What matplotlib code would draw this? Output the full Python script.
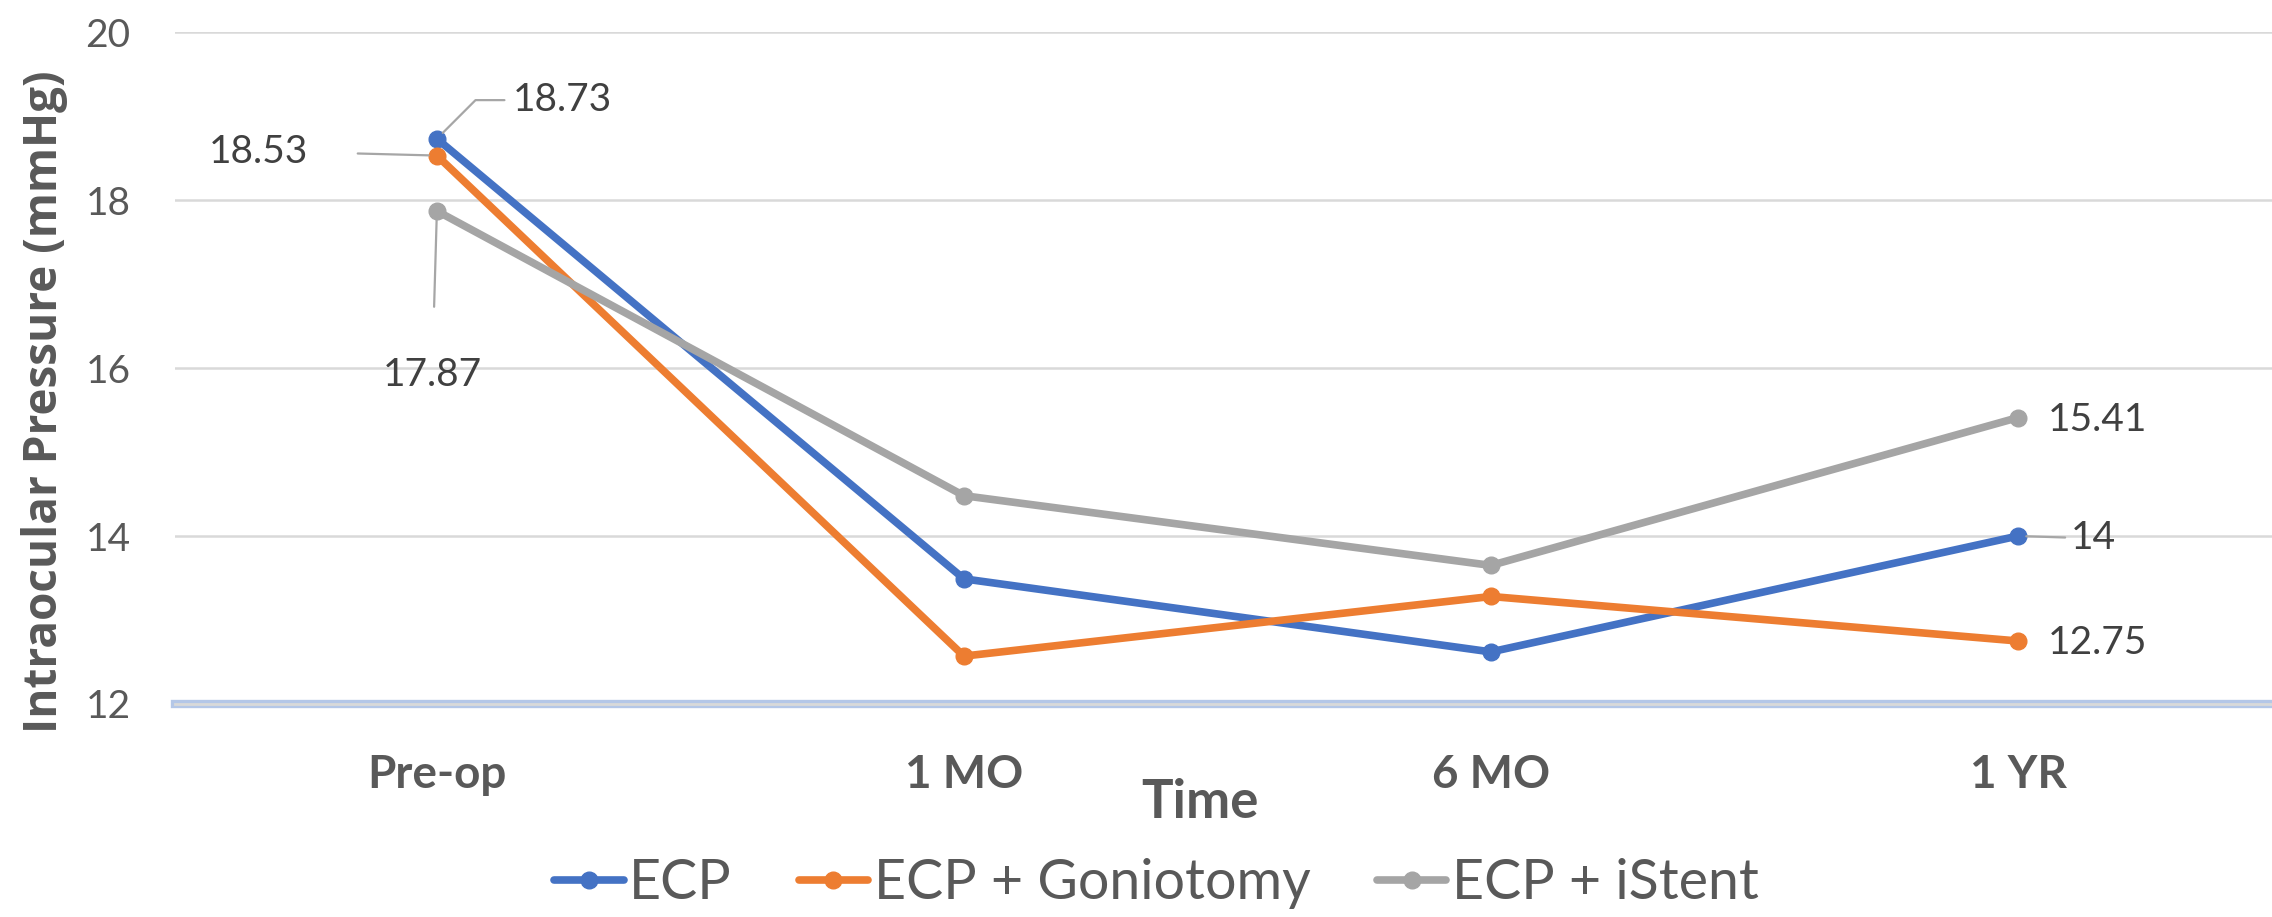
import matplotlib.pyplot as plt
import numpy as np

timepoints = ["Pre-op", "1 MO", "6 MO", "1 YR"]
ecp = [18.73, 13.49, 12.62, 14.0]
ecp_gonio = [18.53, 12.57, 13.28, 12.75]
ecp_istent = [17.87, 14.48, 13.65, 15.41]
series_names = ["ECP", "ECP + Goniotomy", "ECP + iStent"]
yticks = [12, 14, 16, 18, 20]

colors = ["#4472C4", "#ED7D31", "#A5A5A5"]
text_col = "#595959"
label_col = "#404040"
lead_col = "#a6a6a6"

fig = plt.figure(figsize=(22.72, 9.17), dpi=100)
ax = fig.add_axes([0.077, 0.2323, 0.923, 0.7327])
x = np.arange(len(timepoints))

for vals, name, c in zip([ecp, ecp_gonio, ecp_istent], series_names, colors):
    ax.plot(x, vals, color=c, lw=5.5, marker="o", ms=12, label=name,
            solid_capstyle="round", zorder=3)

ax.set_xlim(-0.497, 3.482)
ax.set_ylim(12, 20)
ax.set_yticks(yticks)
ax.set_xticks(x)
ax.set_xticklabels(timepoints)
ax.grid(axis="y", color="#d9d9d9", lw=1.8)
ax.set_axisbelow(True)
for s in ax.spines.values():
    s.set_visible(False)
# bottom axis line (highlighted)
ax.axhline(12, color="#b4c7e7", lw=6, clip_on=False, zorder=2)
ax.axhline(12, color="#d9d9d9", lw=2, clip_on=False, zorder=2)

ax.tick_params(axis="both", length=0)
ax.tick_params(axis="y", pad=32, labelsize=28, labelcolor=text_col)
ax.tick_params(axis="x", pad=36, labelsize=33, labelcolor=text_col)
for t in ax.get_yticklabels():
    t.set_family("Lato")
for t in ax.get_xticklabels():
    t.set_family("Lato")
    t.set_fontweight("bold")

ax.set_ylabel("Intraocular Pressure (mmHg)", family="Open Sans", fontweight="bold",
              fontsize=33, color=text_col)
ax.yaxis.set_label_coords(-0.051, 0.45)
ax.set_xlabel("Time", family="Lato", fontweight="bold", fontsize=38, color=text_col,
              va="center")
ax.xaxis.set_label_coords(0.489, -0.147)

def fmt(v):
    return f"{v:g}"

lbl = dict(family="Lato", fontsize=28, color=label_col, va="center")
# Pre-op labels
ax.annotate(fmt(ecp[0]), xy=(0, ecp[0]), xytext=(0.144, 19.19), ha="left", **lbl,
            arrowprops=dict(arrowstyle="-", color=lead_col, lw=1.6, shrinkA=4, shrinkB=6,
                            relpos=(0, 0.5), connectionstyle="angle,angleA=0,angleB=45,rad=0"))
ax.annotate(fmt(ecp_gonio[0]), xy=(0, ecp_gonio[0]), xytext=(-0.245, 18.57), ha="right", **lbl,
            arrowprops=dict(arrowstyle="-", color=lead_col, lw=1.6, shrinkA=34, shrinkB=6,
                            relpos=(1, 0.5)))
ax.annotate(fmt(ecp_istent[0]), xy=(0, ecp_istent[0]), xytext=(-0.008, 15.92), ha="center", **lbl,
            arrowprops=dict(arrowstyle="-", color=lead_col, lw=1.6, shrinkA=34, shrinkB=6,
                            relpos=(0.5, 1)))
# 1 YR labels
ax.annotate(fmt(ecp_istent[-1]), xy=(3, ecp_istent[-1]), xytext=(3.057, 15.38), ha="left", **lbl)
ax.annotate(fmt(ecp[-1]), xy=(3, ecp[-1]), xytext=(3.10, 13.98), ha="left", **lbl,
            arrowprops=dict(arrowstyle="-", color=lead_col, lw=1.6, shrinkA=2, shrinkB=6,
                            relpos=(0, 0.5)))
ax.annotate(fmt(ecp_gonio[-1]), xy=(3, ecp_gonio[-1]), xytext=(3.057, 12.73), ha="left", **lbl)

fig.legend(loc="center", bbox_to_anchor=(0.509, 0.036), ncol=3, frameon=False,
           prop=dict(family="Lato", size=40), labelcolor=text_col,
           handlelength=1.25, handletextpad=0.1, columnspacing=1.2)

fig.savefig("out.png", dpi=100)
